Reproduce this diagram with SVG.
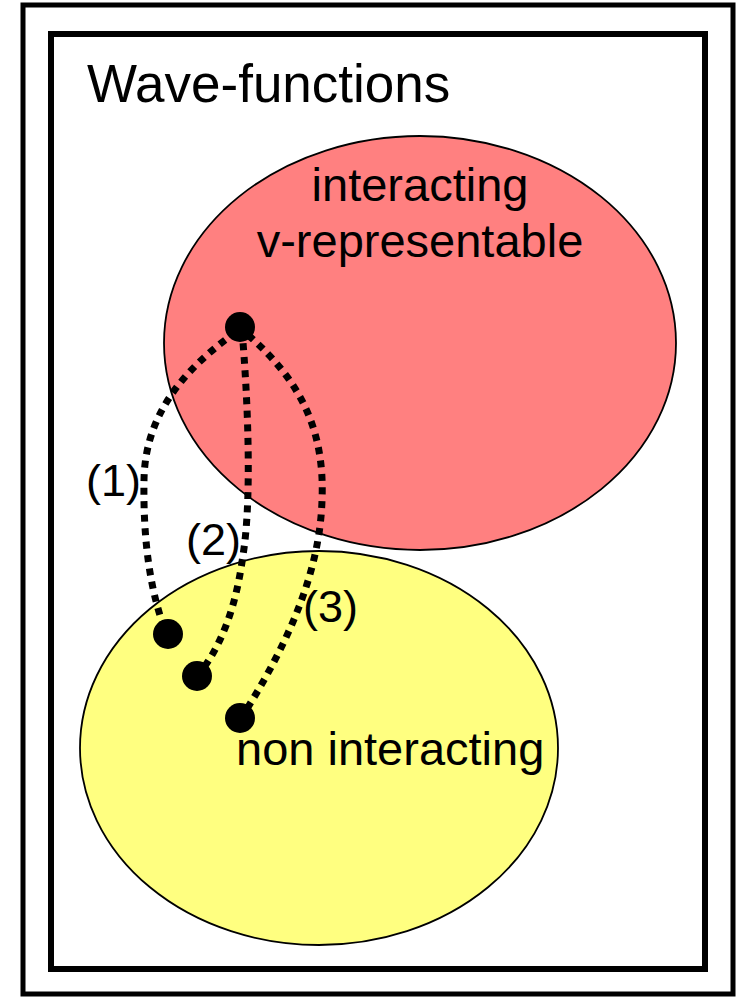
<svg xmlns="http://www.w3.org/2000/svg" width="738" height="997" viewBox="0 0 738 997">
<style>
.frame{fill:none;stroke:#000}
.set{stroke:#000;stroke-width:1.8}
.lbl{font-family:"Liberation Sans",Arial,sans-serif;fill:#000}
.conn{fill:none;stroke:#000;stroke-width:7;stroke-dasharray:7 6.5}
.dot{fill:#000}
</style>
<rect width="738" height="997" fill="#fff"/>
<rect class="frame" x="23" y="5" width="710" height="989" stroke-width="5"/>
<rect class="frame" x="51" y="34" width="654" height="935" stroke-width="6"/>
<text class="lbl" x="87" y="102" font-size="53">Wave-functions</text>
<g id="interacting">
<ellipse class="set" cx="420" cy="343" rx="256" ry="207" fill="#FF8080"/>
<text class="lbl" x="420" y="201" font-size="47" text-anchor="middle">interacting</text>
<text class="lbl" x="420" y="257" font-size="47" text-anchor="middle">v-representable</text>
</g>
<g id="noninteracting">
<ellipse class="set" cx="319" cy="748" rx="239" ry="197" fill="#FFFF80"/>
<text class="lbl" x="236" y="765" font-size="47">non interacting</text>
</g>
<g id="connectors">
<path class="conn" d="M236,332 C190,365 145,410 144,480 C143,540 150,590 165,630"/>
<path class="conn" d="M242,330 C248,400 252,500 243,555 C237,600 225,640 200,673"/>
<path class="conn" d="M248,335 C300,380 325,430 322,500 C320,570 290,640 245,712"/>
<text class="lbl" x="86" y="496" font-size="45">(1)</text>
<text class="lbl" x="186" y="555" font-size="45">(2)</text>
<text class="lbl" x="303" y="622" font-size="45">(3)</text>
</g>
<g id="dot-top"><circle class="dot" cx="240" cy="327" r="15"/></g>
<g id="dot-1"><circle class="dot" cx="168" cy="634" r="15"/></g>
<g id="dot-2"><circle class="dot" cx="197" cy="676" r="15"/></g>
<g id="dot-3"><circle class="dot" cx="240" cy="718" r="15"/></g>
</svg>
